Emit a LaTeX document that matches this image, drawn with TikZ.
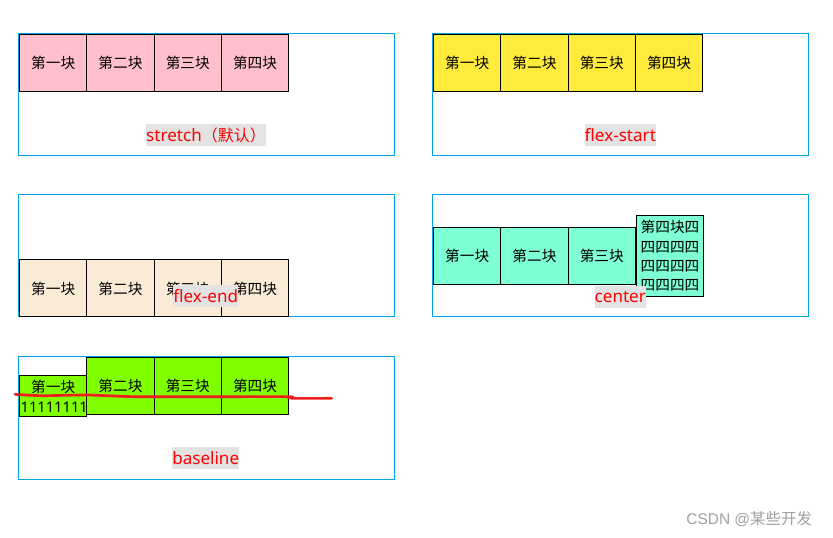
\documentclass[tikz,border=0pt]{standalone}
\usepackage{fontspec}
\newfontfamily\cjk{Noto Sans CJK SC}
\newfontfamily\lat{Noto Sans}
\newfontfamily\arl{Liberation Sans}
\definecolor{panelblue}{RGB}{0,162,232}
\definecolor{pinkfill}{RGB}{255,192,203}
\definecolor{yellowfill}{RGB}{255,235,59}
\definecolor{creamfill}{RGB}{250,235,215}
\definecolor{mintfill}{RGB}{127,255,212}
\definecolor{limefill}{RGB}{127,255,0}
\definecolor{lblgray}{RGB}{227,227,227}
\definecolor{markred}{RGB}{238,30,30}
\tikzset{
  panel/.style={draw=panelblue, line width=0.75pt},
  blk/.style={draw, line width=0.75pt, anchor=north west, inner sep=0pt,
    minimum width=50.5pt, minimum height=42.75pt, font=\cjk\fontsize{11}{14.5}\selectfont},
  lbl/.style={fill=lblgray, text=red, inner xsep=0pt, inner ysep=0pt,
    minimum height=16.5pt, font=\lat\fontsize{12.8}{14}\selectfont},
  markline/.style={draw=markred, line width=2pt, line cap=round}
}
\begin{document}
\begin{tikzpicture}[x=0.75pt, y=-0.75pt]
\useasboundingbox (0,0) rectangle (833,538);
% stretch
\draw[panel] (18,34) rectangle (394,156);
\foreach \t [count=\i] in {第一块,第二块,第三块,第四块}
  \node[blk, fill=pinkfill] (s\i) at ({19+67.3*(\i-1)},34) {\t};
\node[lbl] (ls) at (206,135) {stretch{\cjk\fontsize{12}{14}\selectfont（默认）}};
% flex-start
\draw[panel] (432,34) rectangle (808.7,156);
\foreach \t [count=\i] in {第一块,第二块,第三块,第四块}
  \node[blk, fill=yellowfill] (f\i) at ({433+67.3*(\i-1)},34) {\t};
\node[lbl] (lf) at (620.3,135) {flex-start};
% flex-end
\draw[panel] (18,194.3) rectangle (394,317);
\foreach \t [count=\i] in {第一块,第二块,第三块,第四块}
  \node[blk, fill=creamfill] (e\i) at ({19+67.3*(\i-1)},259.5) {\t};
\node[lbl] (le) at (205.7,296.5) {flex-end};
% center
\draw[panel] (432,194.3) rectangle (808.7,317);
\foreach \t [count=\i] in {第一块,第二块,第三块}
  \node[blk, fill=mintfill] (c\i) at ({433+67.3*(\i-1)},227) {\t};
\node[blk, fill=mintfill, minimum height=60.75pt, align=left] (c4) at (635.9,215)
  {第四块四\\四四四四\\四四四四\\四四四四};
\node[lbl] (lc) at (620.3,296.7) {center};
% baseline
\draw[panel] (18,356.7) rectangle (394,479.3);
\node[blk, fill=limefill, minimum height=30.75pt, text width=48.75pt, align=center,
  font=\cjk\fontsize{11}{15}\selectfont] (b1) at (19,375.3)
  {第一块\\\hbox to\hsize{\lat 11111111\hss}};
\foreach \t [count=\i from 2] in {第二块,第三块,第四块}
  \node[blk, fill=limefill] (b\i) at ({19+67.3*(\i-1)},357.3) {\t};
\node[lbl] (lb) at (205.7,457.7) {baseline};
\draw[markline] plot[smooth, tension=0.4] coordinates{(15,394.3)(41.7,395.7)(86.7,395)(135,396.7)(223,396.7)(289,396.7)(292,398.3)(331.7,398.3)};
\node[font=\cjk\fontsize{11.6}{13}\selectfont, text=gray!75] (wm) at (749.2,519) {{\arl CSDN @}某些开发};
\end{tikzpicture}
\end{document}
